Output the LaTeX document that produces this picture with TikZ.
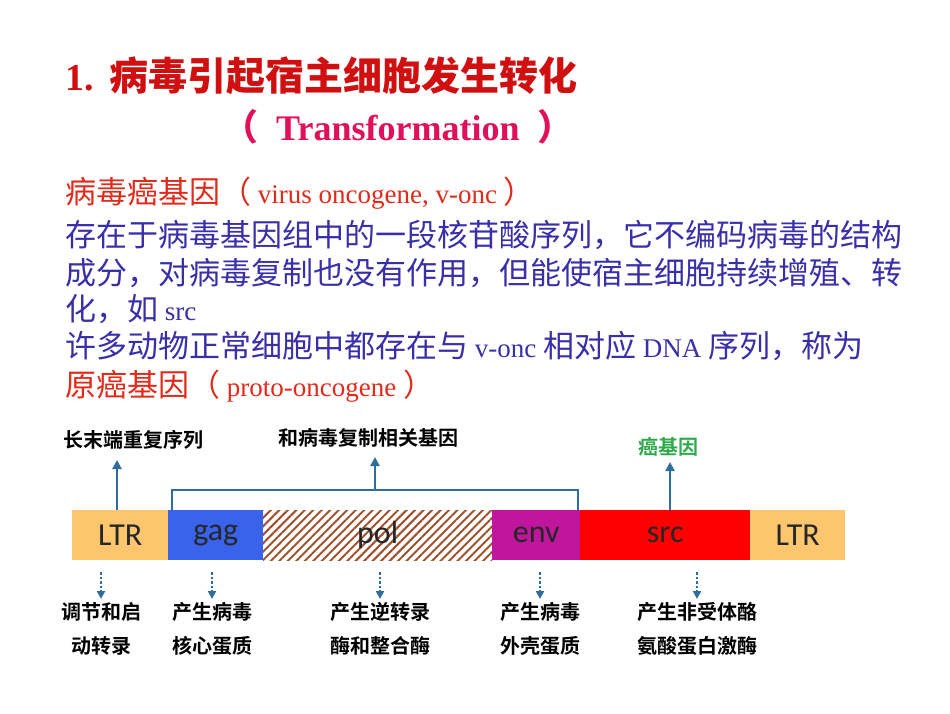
\documentclass[tikz,border=0pt]{standalone}
\usepackage{fontspec}
\setmainfont{Liberation Serif}
\newfontfamily\cjk{Noto Sans CJK SC}
\newfontfamily\cjkb{Noto Sans CJK SC Bold}
\newfontfamily\lab{Carlito}
\usetikzlibrary{patterns.meta,arrows.meta}
\definecolor{ttl}{HTML}{D01010}
\definecolor{tr}{HTML}{E0105A}
\definecolor{bl}{HTML}{3A2FA8}
\definecolor{rd}{HTML}{E02A1A}
\definecolor{ltr}{HTML}{FCC66E}
\definecolor{gag}{HTML}{3A63EC}
\definecolor{env}{HTML}{C0169E}
\definecolor{arr}{HTML}{2E6E9E}
\definecolor{hatch}{HTML}{A0522D}
\definecolor{grn}{HTML}{2EAA4A}
\begin{document}
\begin{tikzpicture}[x=1pt,y=-1pt,
 txt/.style={anchor=base west,inner sep=0pt,font=\fontsize{27}{30}\selectfont},
 seg/.style={minimum height=50pt,inner sep=0pt,anchor=north west,font=\lab\fontsize{32}{34}\selectfont,text=black!85},
 lbl/.style={font=\cjkb\fontsize{20}{22}\selectfont,align=center,inner sep=0pt},
 ar/.style={arr,line width=2.5pt,-{Triangle[length=9pt,width=9pt]}},
 dar/.style={arr,line width=2.5pt,dotted,-{Triangle[length=8pt,width=8pt]}}]
\useasboundingbox (0,0) rectangle (950,713);
\node[txt,text=ttl,font=\bfseries\fontsize{38}{40}\selectfont] (t1) at (65,90) {1.\ \,{\cjkb\fontsize{39}{40}\selectfont 病毒引起宿主细胞发生转化}};
\node[txt,text=tr,font=\bfseries\fontsize{36}{40}\selectfont] (t2) at (222,140) {{\cjk （}\ \ Transformation\ \ {\cjk ）}};
\node[txt,text=rd] (l1) at (65,203) {{\cjk\fontsize{31}{32}\selectfont 病毒癌基因（}\ virus oncogene, v-onc\ {\cjk\fontsize{31}{32}\selectfont ）}};
\node[txt,text=bl] (l2) at (65,246) {\cjk\fontsize{31}{32}\selectfont 存在于病毒基因组中的一段核苷酸序列，它不编码病毒的结构};
\node[txt,text=bl] (l3) at (65,284) {\cjk\fontsize{31}{32}\selectfont 成分，对病毒复制也没有作用，但能使宿主细胞持续增殖、转};
\node[txt,text=bl] (l4) at (65,320) {{\cjk\fontsize{31}{32}\selectfont 化，如} src};
\node[txt,text=bl] (l5) at (65,357) {{\cjk\fontsize{31}{32}\selectfont 许多动物正常细胞中都存在与} v-onc {\cjk\fontsize{31}{32}\selectfont 相对应} DNA {\cjk\fontsize{31}{32}\selectfont 序列，称为}};
\node[txt,text=rd] (l6) at (65,396) {{\cjk\fontsize{31}{32}\selectfont 原癌基因（}\ proto-oncogene\ {\cjk\fontsize{31}{32}\selectfont ）}};
% bar
\node[seg,fill=ltr,minimum width=96pt] (ltr1) at (72,510) {LTR};
\node[seg,fill=gag,minimum width=95pt] (gag) at (168,510) {gag};
\fill[white] (263,510) rectangle (492,560);
\fill[pattern={Lines[angle=45,distance=6pt,line width=2pt]},pattern color=hatch] (263,510) rectangle (492,560);
\node[seg,minimum width=229pt] (pol) at (263,510) {pol};
\node[seg,fill=env,minimum width=88pt] (env) at (492,510) {env};
\node[seg,fill=red,minimum width=170pt] (src) at (580,510) {src};
\node[seg,fill=ltr,minimum width=95pt] (ltr2) at (750,510) {LTR};
% bracket
\coordinate (bl) at (172,510); \coordinate (br) at (578,510); \coordinate (bm) at (375,490);
\draw[arr,line width=2.5pt] (bl) |- (bm) -| (br);
\node[lbl] (k1) at (133,440) {长末端重复序列};
\node[lbl] (k2) at (368,438) {和病毒复制相关基因};
\node[lbl,text=grn] (k3) at (668,447) {癌基因};
\draw[ar] (ltr1.north-|117,0) -- (117,460);
\draw[ar] (bm) -- (375,457);
\draw[ar] (src.north-|670,0) -- (670,462);
\foreach \x/\n/\a/\b in {101/d1/调节和启/动转录,212/d2/产生病毒/核心蛋质,380/d3/产生逆转录/酶和整合酶,540/d4/产生病毒/外壳蛋质,697/d5/产生非受体酪/氨酸蛋白激酶}{
  \coordinate (\n) at (\x,572);
  \draw[dar] (\n) -- ++(0,27);
  \node[lbl,anchor=north] at (\x,602) {\a};
  \node[lbl,anchor=north] at (\x,636) {\b};
}
\end{tikzpicture}
\end{document}
